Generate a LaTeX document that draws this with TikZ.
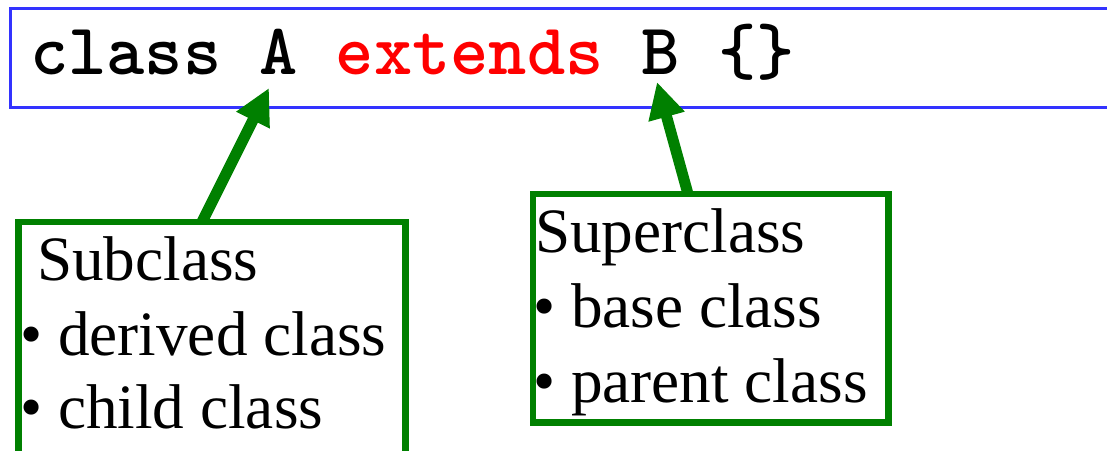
\documentclass[tikz,border=0pt]{standalone}
\usepackage{fontspec}
\setmainfont{Liberation Serif}
\setmonofont{lmmonolt10-bold.otf}
\usetikzlibrary{arrows.meta}
\definecolor{boxblue}{RGB}{51,51,255}
\definecolor{boxgreen}{RGB}{0,128,0}
\definecolor{kwred}{RGB}{255,0,0}
\begin{document}
\begin{tikzpicture}[x=1pt,y=-1pt,
  frame/.style={draw, rectangle, inner sep=0pt, outer sep=0pt, fill=white},
  codebox/.style={frame, draw=boxblue, line width=3pt},
  notebox/.style={frame, draw=boxgreen, line width=6.5pt},
  codetext/.style={anchor=base west, inner sep=0pt, font=\fontsize{72.8}{80}\selectfont\ttfamily},
  notetext/.style={anchor=base west, inner sep=0pt, font=\fontsize{63.2}{74}\selectfont},
  pointer/.style={draw=boxgreen, line width=11pt, -{Triangle[length=36pt,width=35pt]}}
]
\useasboundingbox (0,0) rectangle (1107,450);
\clip (0,0) rectangle (1107,450);

% code line in its blue frame
\node[codebox, minimum width=1120pt, minimum height=98.5pt] (code) at (570,57.75) {};
\node[codetext] (codeline) at (30,74) {class A \textcolor{kwred}{extends} B \{\}};

% targets of the two pointers
\coordinate (tipA) at (269,88);
\coordinate (tipB) at (657,82);

% green note boxes
\node[notebox, minimum width=387pt, minimum height=258pt] (sub) at (212,351) {};
\node[notebox, minimum width=355.5pt, minimum height=228.5pt] (super) at (710.75,308.25) {};

% pointers from the notes to the class names
\draw[pointer] ([xshift=183.5pt]sub.north west) -- (tipA);
\draw[pointer] ([xshift=155pt]super.north west) -- (tipB);

% note texts
\node[notetext] (subhead) at (37,280) {Subclass};
\node[notetext] (subone) at (20,355) {• derived class};
\node[notetext] (subtwo) at (20,428) {• child class};

\node[notetext] (superhead) at (535,252) {Superclass};
\node[notetext] (superone) at (533,327) {• base class};
\node[notetext] (supertwo) at (533,402) {• parent class};
\end{tikzpicture}
\end{document}
